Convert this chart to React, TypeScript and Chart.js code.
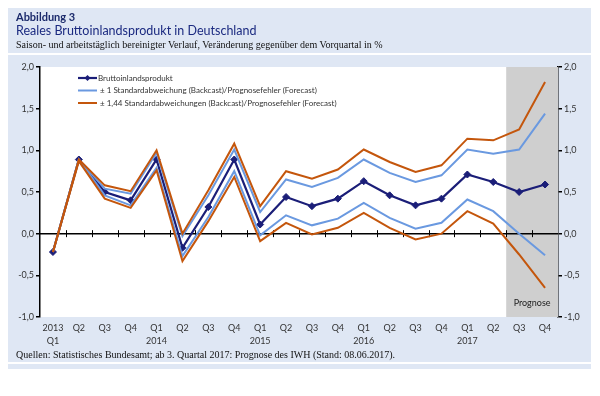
import React, { useEffect, useRef } from "react";
import { Chart, registerables } from "chart.js";

Chart.register(...registerables);

const categories: (string | string[])[] = [
  ["2013", "Q1"], "Q2", "Q3", "Q4",
  ["Q1", "2014"], "Q2", "Q3", "Q4",
  ["Q1", "2015"], "Q2", "Q3", "Q4",
  ["Q1", "2016"], "Q2", "Q3", "Q4",
  ["Q1", "2017"], "Q2", "Q3", "Q4",
];

const gdp = [-0.22, 0.89, 0.5, 0.4, 0.89, -0.17, 0.32, 0.89, 0.11, 0.44, 0.33, 0.42, 0.63, 0.46, 0.34, 0.42, 0.71, 0.62, 0.5, 0.59];
const sd1Upper = [-0.22, 0.89, 0.54, 0.48, 0.97, -0.03, 0.46, 1.01, 0.26, 0.65, 0.56, 0.67, 0.89, 0.73, 0.62, 0.7, 1.01, 0.96, 1.01, 1.44];
const sd1Lower = [-0.22, 0.89, 0.46, 0.34, 0.79, -0.27, 0.2, 0.75, -0.02, 0.22, 0.1, 0.18, 0.37, 0.19, 0.06, 0.13, 0.41, 0.27, 0.0, -0.26];
const sd144Upper = [-0.22, 0.89, 0.58, 0.51, 1.0, 0.0, 0.52, 1.08, 0.33, 0.75, 0.66, 0.77, 1.01, 0.86, 0.74, 0.82, 1.14, 1.12, 1.25, 1.82];
const sd144Lower = [-0.22, 0.87, 0.42, 0.31, 0.76, -0.33, 0.15, 0.68, -0.09, 0.13, -0.01, 0.07, 0.25, 0.07, -0.07, 0.0, 0.27, 0.12, -0.25, -0.65];

const forecastFromIndex = 18;
const forecastLabel = "Prognose";

const legendLabels = [
  "Bruttoinlandsprodukt",
  "± 1 Standardabweichung (Backcast)/Prognosefehler (Forecast)",
  "± 1,44 Standardabweichungen (Backcast)/Prognosefehler (Forecast)",
];

const yMin = -1;
const yMax = 2;
const yStep = 0.5;

const NAVY = "#1b1e78";
const LIGHTBLUE = "#6a99e0";
const ORANGE = "#c4560c";
const PANEL = "#dfe7f4";
const FONT = "Lato, 'Noto Sans', sans-serif";

const fmt = (v: number) => v.toFixed(1).replace(".", ",");

const plotPlugin = {
  id: "plotDecor",
  beforeDraw(chart: any) {
    const { ctx, chartArea } = chart;
    ctx.save();
    ctx.fillStyle = "#ffffff";
    ctx.fillRect(chartArea.left, chartArea.top, chartArea.right - chartArea.left, chartArea.bottom - chartArea.top);
    ctx.restore();
  },
  beforeDatasetsDraw(chart: any) {
    const { ctx, chartArea, scales } = chart;
    const x = scales.x;
    const y = scales.y;
    const xs = (x.getPixelForValue(forecastFromIndex - 1) + x.getPixelForValue(forecastFromIndex)) / 2;
    ctx.save();
    ctx.fillStyle = "#cfcfcf";
    ctx.fillRect(xs, chartArea.top, chartArea.right - xs, chartArea.bottom - chartArea.top);
    ctx.fillStyle = "#222";
    ctx.font = "9px " + FONT;
    ctx.textAlign = "center";
    ctx.textBaseline = "middle";
    ctx.fillText(forecastLabel, (xs + chartArea.right) / 2, chartArea.bottom - 14);
    // zero line with ticks
    const y0 = y.getPixelForValue(0);
    ctx.strokeStyle = "#000";
    ctx.lineWidth = 1.5;
    ctx.beginPath();
    ctx.moveTo(chartArea.left, y0);
    ctx.lineTo(chartArea.right, y0);
    ctx.stroke();
    ctx.lineWidth = 1;
    ctx.beginPath();
    for (let i = 1; i < categories.length; i++) {
      const bx = Math.round((x.getPixelForValue(i - 1) + x.getPixelForValue(i)) / 2) + 0.5;
      ctx.moveTo(bx, y0 - 3.5);
      ctx.lineTo(bx, y0 + 3.5);
    }
    ctx.stroke();
    ctx.restore();
  },
  afterDatasetsDraw(chart: any) {
    const { ctx, chartArea } = chart;
    const colors = [NAVY, LIGHTBLUE, ORANGE];
    const widths = [2.2, 2, 2];
    const x0 = chartArea.left + 38;
    const lineLen = 19;
    ctx.save();
    ctx.font = "8px " + FONT;
    ctx.textBaseline = "middle";
    ctx.textAlign = "left";
    legendLabels.forEach((lab, i) => {
      const yy = chartArea.top + 11 + i * 12.5;
      ctx.strokeStyle = colors[i];
      ctx.lineWidth = widths[i];
      ctx.beginPath();
      ctx.moveTo(x0, yy);
      ctx.lineTo(x0 + lineLen, yy);
      ctx.stroke();
      if (i === 0) {
        ctx.fillStyle = NAVY;
        ctx.beginPath();
        const cx = x0 + lineLen / 2;
        ctx.moveTo(cx, yy - 3);
        ctx.lineTo(cx + 3, yy);
        ctx.lineTo(cx, yy + 3);
        ctx.lineTo(cx - 3, yy);
        ctx.closePath();
        ctx.fill();
      }
      ctx.fillStyle = "#333";
      ctx.fillText(lab, x0 + lineLen + (i === 0 ? 1 : 3), yy);
    });
    ctx.restore();
  },
};

export default function App() {
  const ref = useRef<HTMLCanvasElement>(null);
  useEffect(() => {
    if (!ref.current) return;
    const band = (data: number[], color: string, order: number) => ({
      data,
      borderColor: color,
      backgroundColor: color,
      borderWidth: 2,
      pointRadius: 0,
      tension: 0,
      order,
    });
    const axisY = (position: "left" | "right", width: number) => ({
      position,
      min: yMin,
      max: yMax,
      ticks: {
        stepSize: yStep,
        callback: (v: any) => fmt(Number(v)),
        font: { family: FONT, size: 9 },
        color: "#333",
        padding: 2,
      },
      grid: { drawOnChartArea: false, drawTicks: true, tickLength: 4, color: "#000", lineWidth: 1.5 },
      border: { color: "#000", width: 1.5 },
      afterFit: (s: any) => {
        s.width = width;
      },
    });
    const chart = new Chart(ref.current, {
      type: "line",
      data: {
        labels: categories,
        datasets: [
          {
            data: gdp,
            borderColor: NAVY,
            backgroundColor: NAVY,
            borderWidth: 2.2,
            pointStyle: "rectRot",
            pointRadius: 3.5,
            pointBorderWidth: 1,
            tension: 0,
            order: 3,
          },
          band(sd1Upper, LIGHTBLUE, 2),
          band(sd1Lower, LIGHTBLUE, 2),
          band(sd144Upper, ORANGE, 1),
          band(sd144Lower, ORANGE, 1),
        ],
      },
      options: {
        animation: false,
        responsive: false,
        layout: { padding: { top: 62, left: 0, right: 0, bottom: 0 } },
        plugins: { legend: { display: false }, tooltip: { enabled: false } },
        scales: {
          x: {
            type: "category",
            offset: true,
            grid: { display: false, drawTicks: false },
            border: { display: false },
            ticks: {
              font: { family: FONT, size: 9, lineHeight: 1.45 },
              color: "#333",
              padding: 5,
              maxRotation: 0,
              autoSkip: false,
            },
            afterFit: (s: any) => {
              s.height = 52;
            },
          },
          y: axisY("left", 32),
          y2: axisY("right", 33),
        },
      },
      plugins: [plotPlugin],
    } as any);
    return () => chart.destroy();
  }, []);

  return (
    <div
      style={{
        position: "relative",
        width: 583,
        height: 364,
        marginTop: -3,
        background: PANEL,
        overflow: "hidden",
      }}
    >
      <canvas ref={ref} width={583} height={364} style={{ position: "absolute", left: 0, top: 0, width: 583, height: 364 }} />
      <div style={{ position: "absolute", left: 8, top: 5, fontFamily: FONT, fontWeight: 700, fontSize: 11, color: "#1b2a6b", lineHeight: "14px" }}>
        Abbildung 3
      </div>
      <div style={{ position: "absolute", left: 8, top: 18, fontFamily: FONT, fontSize: 12.5, color: "#1b2a80", lineHeight: "16px" }}>
        Reales Bruttoinlandsprodukt in Deutschland
      </div>
      <div style={{ position: "absolute", left: 8, top: 34, fontFamily: "'Liberation Serif', serif", fontSize: 10, color: "#111", lineHeight: "12px", whiteSpace: "nowrap" }}>
        Saison- und arbeitstäglich bereinigter Verlauf, Veränderung gegenüber dem Vorquartal in %
      </div>
      <div style={{ position: "absolute", left: 0, top: 48, width: 583, height: 1.5, background: "#ffffff" }} />
      <div style={{ position: "absolute", left: 8, top: 343, fontFamily: "'Liberation Serif', serif", fontSize: 10, color: "#111", lineHeight: "13px", whiteSpace: "nowrap" }}>
        Quellen: Statistisches Bundesamt; ab 3. Quartal 2017: Prognose des IWH (Stand: 08.06.2017).
      </div>
      <div style={{ position: "absolute", left: 0, top: 357, width: 583, height: 2, background: "#ffffff" }} />
    </div>
  );
}
